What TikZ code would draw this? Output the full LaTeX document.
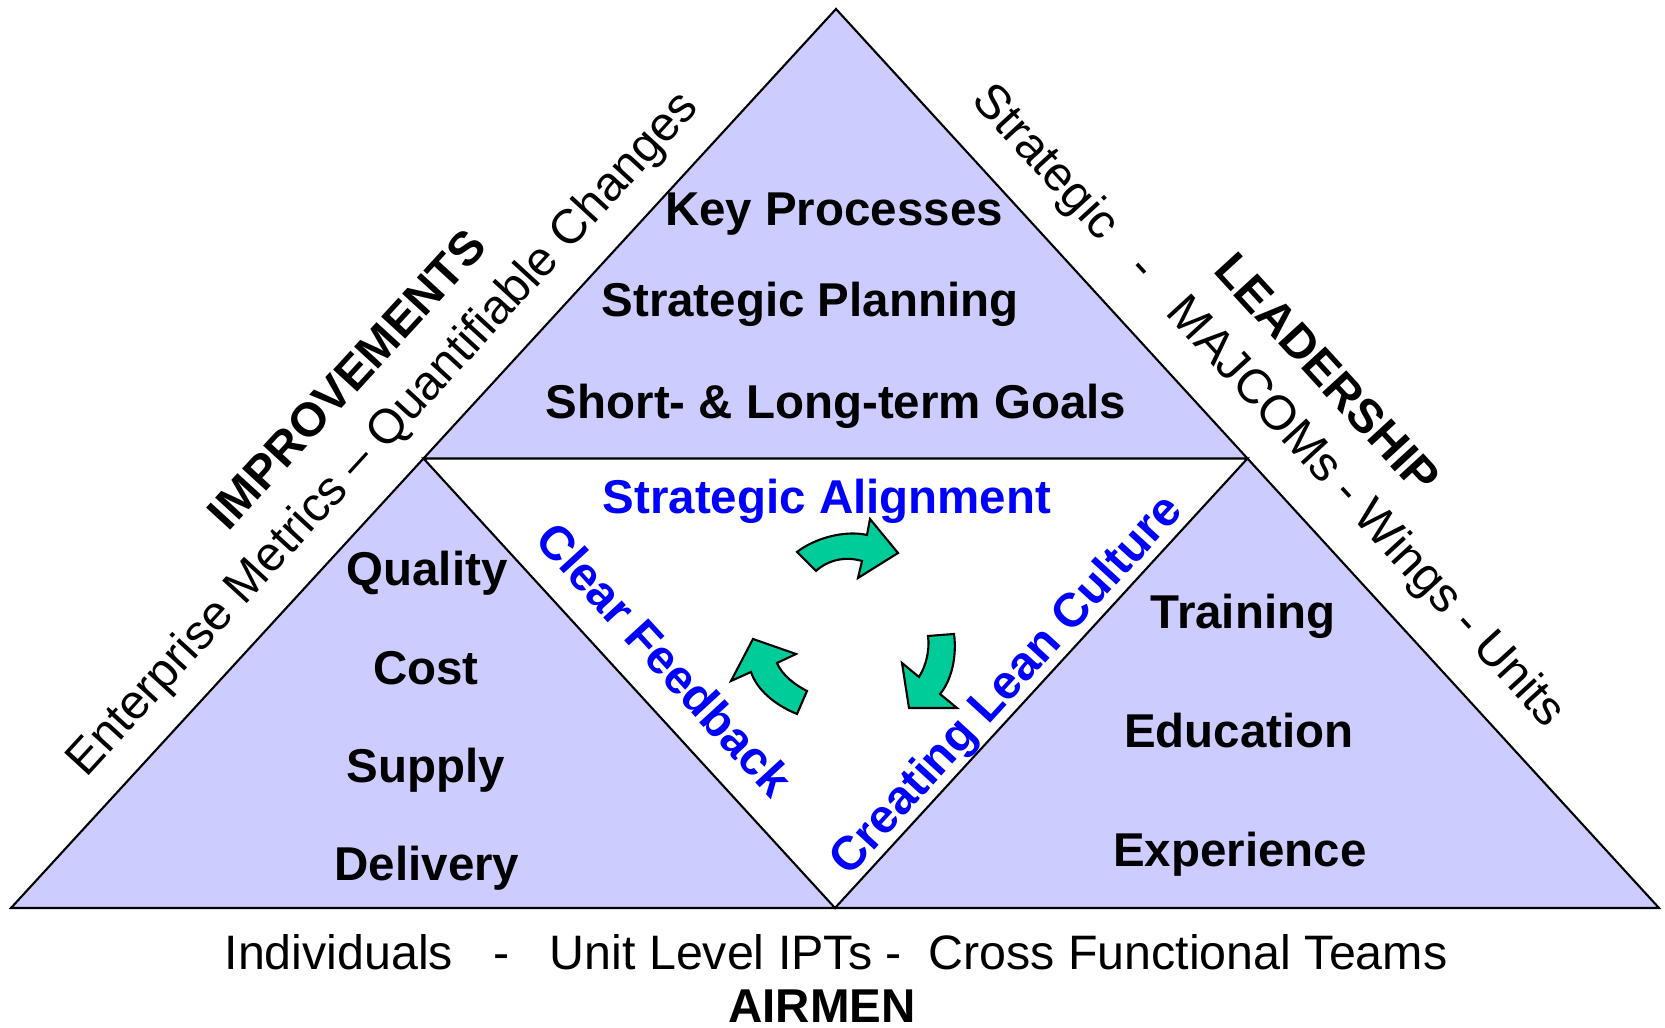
\documentclass[tikz,border=0pt]{standalone}
\usepackage{fontspec}
\setmainfont{Liberation Sans}
\usetikzlibrary{calc}
\definecolor{lav}{HTML}{CCCCFF}
\definecolor{sea}{HTML}{00CC99}

\begin{document}
\begin{tikzpicture}[x=0.01cm, y=-0.01cm,
  every node/.style={inner sep=0pt, text height=9.7pt, text depth=0pt},
  side/.style={font=\fontsize{13.75}{16}\selectfont},
  item/.style={font=\fontsize{13.5}{16}\selectfont\bfseries},
  theme/.style={item, text=blue},
  part/.style={fill=lav},
  edge/.style={draw=black, line width=0.6pt},
  turn/.style={fill=sea, draw=black, line width=0.6pt, line join=miter}]
  \useasboundingbox (0,0) rectangle (1665,1028);

  \coordinate (top) at (836,9);
  \coordinate (bl) at (11,908);
  \coordinate (br) at (1659,908);
  \coordinate (ml) at ($(top)!0.5!(bl)$);
  \coordinate (mr) at ($(top)!0.5!(br)$);
  \coordinate (mb) at ($(bl)!0.5!(br)$);

  \fill[part] (top) -- (ml) -- (mr) -- cycle;
  \fill[part] (ml) -- (bl) -- (mb) -- cycle;
  \fill[part] (mr) -- (mb) -- (br) -- cycle;
  \draw[edge] (top) -- (bl) -- (br) -- cycle;
  \draw[edge] (ml) -- (mr) -- (mb) -- cycle;

  \node[item] (kp) at (834,208) {Key Processes};
  \node[item] (sp) at (810,299) {Strategic Planning};
  \node[item] (gl) at (836,401) {Short- \& Long-term Goals};

  \node[item] (ql) at (427,568) {Quality};
  \node[item] (cs) at (426,667) {Cost};
  \node[item] (su) at (426,765) {Supply};
  \node[item] (dl) at (427,863) {Delivery};

  \node[item] (tr) at (1243,611) {Training};
  \node[item] (ed) at (1239,730) {Education};
  \node[item] (ex) at (1240,849) {Experience};

  \node[theme] (sa) at (827,496) {Strategic Alignment};
  \node[theme, rotate=-47.5] (cf) at (665,659) {Clear Feedback};
  \node[theme, rotate=47.5] (cl) at (1004,683) {Creating Lean Culture};

  \node[item, rotate=47.5] (imp) at (346,379) {IMPROVEMENTS};
  \node[side, rotate=47.5] (em) at (381,432) {Enterprise Metrics -- Quantifiable Changes};
  \node[item, rotate=-47.5] (ld) at (1328,373) {LEADERSHIP};
  \node[side, rotate=-47.5] (lv) at (1271,404) {Strategic~~~-~~~MAJCOMs - Wings - Units};
  \node[side] (ppl) at (836,952) {Individuals~~~-~~~Unit Level IPTs -~~Cross Functional Teams};
  \node[item] (air) at (822,1005) {AIRMEN};

  % turning arrows
  \draw[turn] (797,552) .. controls (815,538) and (845,530) .. (867,535) -- (870,519)
    -- (898,553) -- (858,578) -- (862,561) .. controls (845,556) and (828,560) .. (816,571) -- cycle;
  \draw[turn] (954,634) .. controls (957,655) and (952,680) .. (940,694) -- (957,708)
    -- (909,708) -- (902,663) -- (919,677) .. controls (926,666) and (930,650) .. (928,636) -- cycle;
  \draw[turn] (807,691) .. controls (795,685) and (782,675) .. (777,663) -- (796,654)
    -- (753,639) -- (731,681) -- (751,672) .. controls (757,690) and (775,705) .. (797,714) -- cycle;
\end{tikzpicture}
\end{document}
